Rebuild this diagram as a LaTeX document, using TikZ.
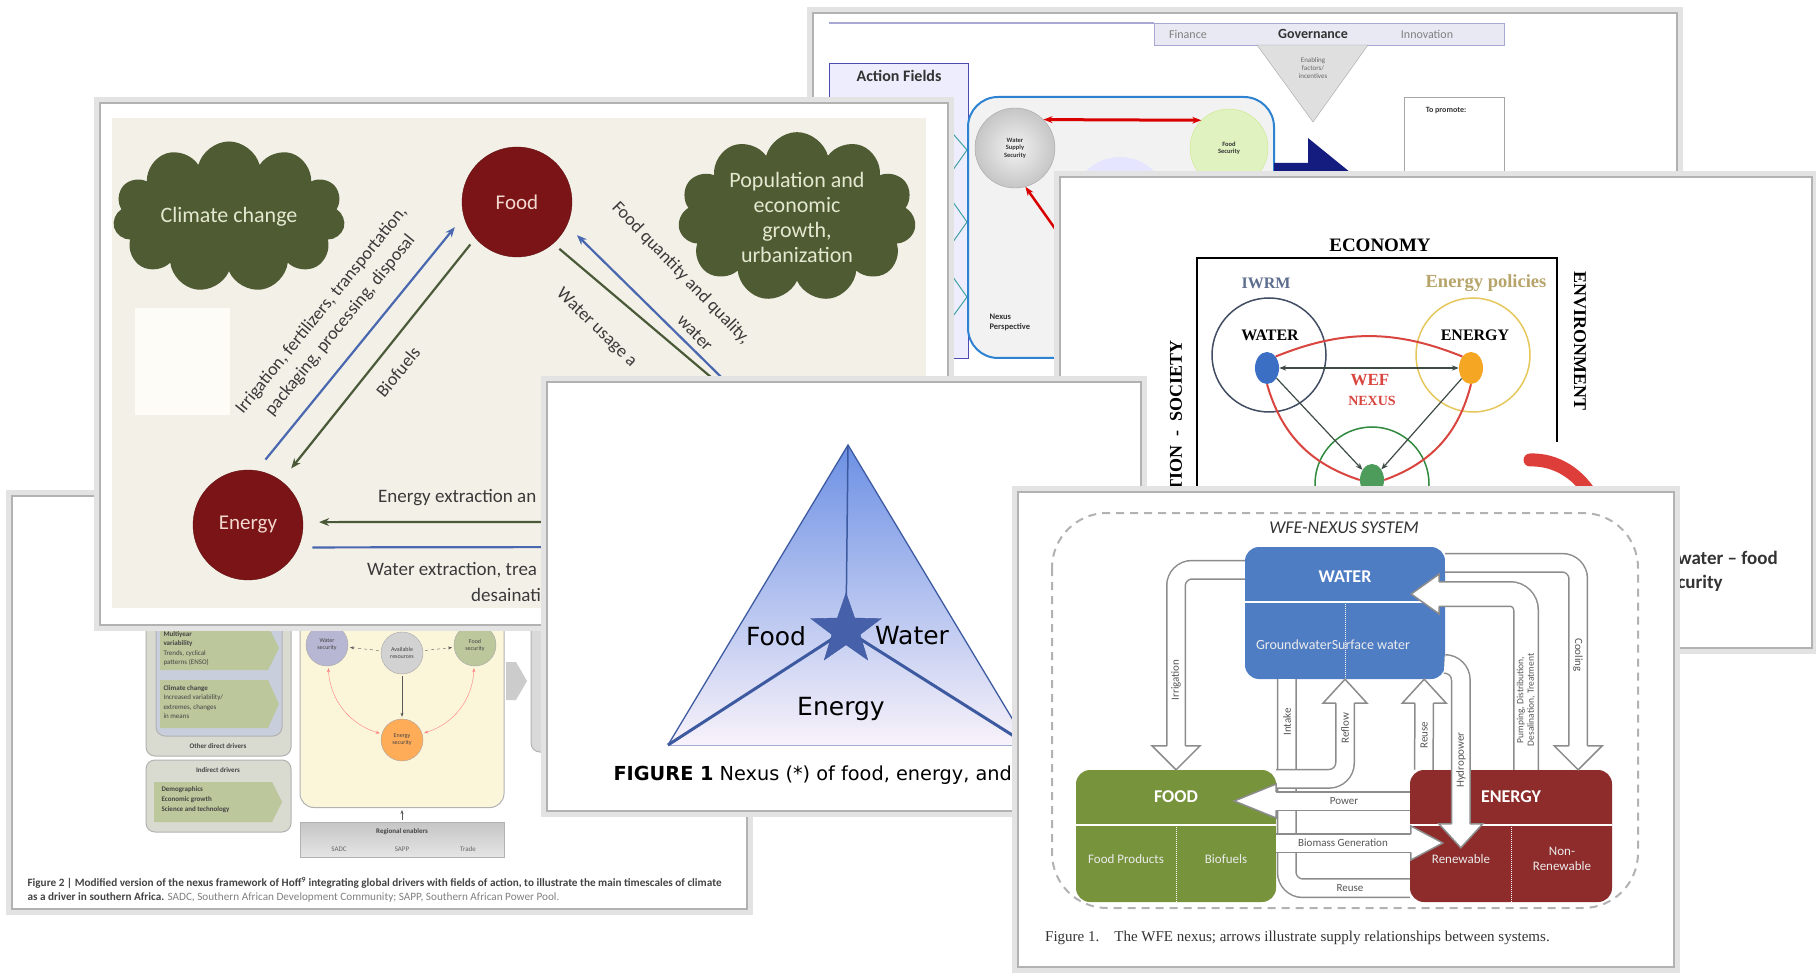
\documentclass[tikz,border=0pt]{standalone}
\usepackage{fontspec}
\setmainfont{Carlito}
\newfontfamily\dejavu{DejaVu Sans}
\newfontfamily\tnr{Liberation Serif}
\usetikzlibrary{arrows.meta,positioning,calc,shapes.geometric,shapes.symbols}

\definecolor{cloudolive}{HTML}{4F5B32}
\definecolor{cloudtxt}{HTML}{E4E8D0}
\definecolor{maroonF}{HTML}{7B1416}
\definecolor{foodtxt}{HTML}{F2D8CF}
\definecolor{fbeige}{HTML}{F3F0E8}
\definecolor{foffwhite}{HTML}{FDFCF7}
\definecolor{arrblue}{HTML}{4A68B0}
\definecolor{arrgreen}{HTML}{4A5A38}
\definecolor{ftxt}{HTML}{3A3A3A}
\definecolor{triblue}{HTML}{6C90E4}
\definecolor{tripink}{HTML}{F8F2FA}
\definecolor{tridark}{HTML}{3D5AA0}
\definecolor{starblue}{HTML}{4661AA}
\definecolor{hwater}{HTML}{4F7DC4}
\definecolor{hfoodc}{HTML}{77933C}
\definecolor{henerc}{HTML}{8E2B2B}
\definecolor{pipegray}{HTML}{8C8C8C}
\definecolor{hcap}{HTML}{333333}
\definecolor{hlab}{HTML}{555555}
\definecolor{ered}{HTML}{D9453F}
\definecolor{egold}{HTML}{E5C75C}
\definecolor{egreen}{HTML}{2F8A3F}
\definecolor{eblue}{HTML}{3A6FC4}
\definecolor{eorange}{HTML}{F5A623}
\definecolor{eslate}{HTML}{5E6E8E}
\definecolor{epol}{HTML}{B7A46A}
\definecolor{edark}{HTML}{3E4B45}
\definecolor{gtext}{HTML}{444444}
\definecolor{ggray}{HTML}{D9DAD0}
\definecolor{gblue}{HTML}{C8CEDC}
\definecolor{gchev}{HTML}{BCC79C}
\definecolor{gyellow}{HTML}{FBF5DA}
\definecolor{lav}{HTML}{A8A8D4}
\definecolor{nexblue}{HTML}{2D82D2}
\definecolor{navy}{HTML}{141C80}
\definecolor{teal}{HTML}{3FA3A0}

\newcommand\fs[2]{\fontsize{#1}{#2}\selectfont}
\newcommand\pipehead[5]{%
  \filldraw[headline, shift={(#1)}, rotate=#2]
    (-#3,-#5) -- (-#3,-#4) -- (0,0) -- (-#3,#4) -- (-#3,#5);}

\begin{document}
\begin{tikzpicture}[x=1pt, y=-1pt,
    cardface/.style={fill=white, draw=gray!60, line width=1.5pt,
      preaction={draw=gray!22, line width=12pt}},
    cloudnode/.style={cloud, cloud puffs=11, aspect=1.7, fill=cloudolive,
      text=cloudtxt, align=center, inner sep=0pt, font=\fs{22}{25}},
    bignode/.style={circle, fill=maroonF, draw=maroonF!80!black, minimum size=110pt,
      text=foodtxt, font=\fs{21}{24}},
    bluearr/.style={draw=arrblue, line width=2.2pt, -{Stealth[length=10pt,width=8pt]},
      shorten <=14pt, shorten >=14pt},
    greenarr/.style={draw=arrgreen, line width=2.2pt, -{Stealth[length=10pt,width=8pt]},
      shorten <=8pt, shorten >=16pt},
    trilabel/.style={font=\dejavu\fs{25}{28}, text=black},
    hbox/.style={rectangle, rounded corners=14pt, minimum width=200pt, minimum height=132pt},
    boxtitle/.style={text=white, font=\bfseries\fs{18}{20}},
    boxtext/.style={text=white!92!black, font=\fs{13}{15}, align=center},
    pipe/.style={draw=white, line width=17pt, rounded corners=16pt,
      preaction={draw=pipegray, line width=20pt}},
    widepipe/.style={draw=white, line width=23pt, rounded corners=16pt,
      preaction={draw=pipegray, line width=26pt}},
    headline/.style={fill=white, draw=pipegray, line width=1.5pt, line join=miter},
    plab/.style={text=hlab, font=\fs{11}{12}, inner sep=1pt},
    ring/.style={circle, minimum size=114pt, line width=1.5pt},
    edotn/.style={ellipse, minimum width=24pt, minimum height=32pt, inner sep=0pt},
    eserif/.style={font=\tnr\bfseries\fs{17}{18}, text=black, inner sep=1pt},
    gcirc/.style={circle, draw=gray!70, minimum size=42pt, inner sep=0pt,
      align=center, font=\fs{6}{7}},
    garr/.style={draw=gray!70!black, -{Stealth[length=4pt]}, shorten <=2pt, shorten >=2pt},
    gbox/.style={draw=gray!60, rounded corners=9pt, line width=1pt}]

\fill[white] (0,0) rectangle (1816,973);
\useasboundingbox (0,0) rectangle (1816,973);

% Hoff nexus (back)
\begin{scope}[every node/.style={text=hcap}]
  \draw[cardface] (813,13) rectangle (1677,395);
  \draw[lav, line width=1.5pt] (829,23) -- (1154,23);
  \draw[draw=lav, fill=lav!25] (1154,23) rectangle (1504,45);
  \node[font=\fs{12}{13}, text=gray] at (1188,34) {Finance};
  \node[font=\bfseries\fs{14}{15}] at (1313,34) {Governance};
  \node[font=\fs{12}{13}, text=gray] at (1427,34) {Innovation};
  \draw[draw=gray!70, fill=gray!25] (1257,45) -- (1368,45) -- (1313,122) -- cycle;
  \node[align=center, font=\fs{7}{8}, text=gray!80!black] at (1313,68) {Enabling\\factors/\\incentives};
  \draw[gray!70] (1404,97) rectangle (1504,200);
  \node[font=\bfseries\fs{8}{9}] at (1446,111) {To promote:};
  \draw[draw=gray!60!blue, fill=gray!20!blue!8] (829,63) rectangle (968,358);
  \node[font=\bfseries\fs{16}{17}] at (899,76) {Action Fields};
  \draw[teal, line width=1pt] (948,128) -- (967,150) -- (948,177);
  \draw[teal, line width=1pt] (948,195) -- (967,222) -- (948,249);
  \draw[teal, line width=1pt] (948,270) -- (967,297) -- (948,323);
  \draw[draw=nexblue, fill=gray!10, line width=2pt, rounded corners=30pt] (968,97) rectangle (1274,358);
  \fill[blue!10] (1120,205) circle (48);
  \node[circle, draw=gray!70, inner color=gray!10, outer color=gray!45, minimum size=80pt,
    align=center, font=\bfseries\fs{6.5}{7.5}] (wss) at (1015,148) {Water\\Supply\\Security};
  \node[circle, draw=yellow!60!green!50, fill=yellow!50!green!25, minimum size=78pt,
    align=center, font=\bfseries\fs{6.5}{7.5}] (fsec) at (1229,148) {Food\\Security};
  \draw[red!85!black, line width=3pt, {Stealth[length=9pt]}-{Stealth[length=9pt]}] (wss.45) -- (fsec.135);
  \coordinate (redend) at (1095,285);
  \draw[red!85!black, line width=2.5pt, {Stealth[length=9pt]}-] (wss.-75) -- (redend);
  \node[anchor=west, align=left, font=\bfseries\fs{8.5}{10}] at (986,322) {Nexus\\Perspective};
  \fill[navy] (1274,163) -- (1308,163) -- (1308,138) -- (1356,177) -- (1274,177) -- cycle;
\end{scope}

% WEF nexus with economy frame
\begin{scope}
  \draw[cardface] (1060,177) rectangle (1812,648);
  \node[eserif, font=\tnr\bfseries\fs{19}{20}] (econ) at (1380,245) {ECONOMY};
  \draw[line width=2pt] (1197,505) -- (1197,258) -- (1557,258) -- (1557,442);
  \node[font=\tnr\bfseries\fs{16}{18}, text=eslate] (iwrm) at (1266,283) {IWRM};
  \node[font=\tnr\bfseries\fs{18.5}{19}, text=epol] (epolicy) at (1486,283) {Energy policies};
  \node[ring, draw=eslate!70!black] (wring) at (1269,355) {};
  \node[ring, draw=egold] (ering) at (1473,355) {};
  \node[ring, draw=egreen] (fring) at (1372,484) {};
  \node[eserif, font=\tnr\bfseries\fs{16}{18}] at (1270,335) {WATER};
  \node[eserif, font=\tnr\bfseries\fs{16}{18}] at (1475,335) {ENERGY};
  \node[edotn, fill=eblue] (wdot) at (1267,368) {};
  \node[edotn, fill=eorange] (edot) at (1471,368) {};
  \node[edotn, fill=egreen!85] (fdot) at (1372,480) {};
  \draw[ered, line width=2pt] (wdot.north east) to[bend left=22] (edot.north west);
  \draw[ered, line width=2pt] (wdot.south) to[bend right=28] (fdot.west);
  \draw[ered, line width=2pt] (edot.south) to[bend left=28] (fdot.east);
  \draw[edark, line width=1.2pt, {Stealth[length=7pt]}-{Stealth[length=7pt]}] (wdot) -- (edot);
  \draw[edark, line width=1.2pt, -{Stealth[length=7pt]}] (wdot) -- (fdot);
  \draw[edark, line width=1.2pt, -{Stealth[length=7pt]}] (edot) -- (fdot);
  \node[font=\tnr\bfseries\fs{17}{18}, text=ered, inner sep=1pt] at (1370,380) {WEF};
  \node[font=\tnr\bfseries\fs{14}{15}, text=ered, inner sep=1pt] at (1372,401) {NEXUS};
  \node[rotate=-90, eserif, font=\tnr\bfseries\fs{18}{19}] at (1580,341) {ENVIRONMENT};
  \node[rotate=90, eserif, font=\tnr\bfseries\fs{18}{19}] at (1176,416) {TION\ \ -\ \ SOCIETY};
  \draw[ered!90!red, line width=13pt, line cap=round] (1530,460) .. controls (1556,459) and (1580,474) .. (1594,500);
  \node[anchor=west, font=\bfseries\fs{19}{21}, text=hcap] at (1674,558) {water -- food};
  \node[anchor=west, font=\bfseries\fs{19}{21}, text=hcap] at (1674,583) {curity};
\end{scope}

% southern Africa framework
\begin{scope}[every node/.style={text=gtext}]
  \draw[cardface] (12,496) rectangle (747,909);
  \draw[gbox, fill=ggray] (146,560) rectangle (291,756);
  \draw[gbox, fill=gblue] (156,560) rectangle (282,736);
  \fill[gchev] (160,626) -- (268,626) -- (279,648) -- (268,670) -- (160,670) -- cycle;
  \fill[gchev] (160,680) -- (268,680) -- (279,704) -- (268,728) -- (160,728) -- cycle;
  \node[anchor=north west, align=left, font=\fs{7}{9.5}] at (160,628)
    {\textbf{Multiyear}\\\textbf{variability}\\Trends, cyclical\\patterns (ENSO)};
  \node[anchor=north west, align=left, font=\fs{7}{9.5}] at (160,682)
    {\textbf{Climate change}\\Increased variability/\\extremes, changes\\in means};
  \node[font=\bfseries\fs{7}{8}] at (218,746) {Other direct drivers};
  \draw[gbox, fill=ggray] (146,760) rectangle (291,832);
  \node[font=\bfseries\fs{7}{8}] at (218,770) {Indirect drivers};
  \fill[gchev] (154,782) -- (272,782) -- (282,802) -- (272,822) -- (154,822) -- cycle;
  \node[anchor=north west, align=left, font=\bfseries\fs{7}{10}] at (158,783)
    {Demographics\\Economic growth\\Science and technology};
  \node[gbox, fill=gyellow, rounded corners=14pt, minimum width=204pt, minimum height=247pt] (gmid) at (402,684) {};
  \node[gcirc, fill=blue!25!gray!45] (gwat) at (327,645) {Water\\security};
  \node[gcirc, fill=gray!35] (gavail) at (402,653) {Available\\resources};
  \node[gcirc, fill=gchev] (gfood) at (475,645) {Food\\security};
  \node[gcirc, fill=orange!65] (gener) at (402,740) {Energy\\security};
  \draw[garr, dashed] (gavail) -- (gwat);
  \draw[garr, dashed] (gavail) -- (gfood);
  \draw[garr] (gavail) -- (gener);
  \draw[garr, draw=red!50, {Stealth[length=4pt]}-{Stealth[length=4pt]}] (gwat) to[bend right=35] (gener);
  \draw[garr, draw=red!50, {Stealth[length=4pt]}-{Stealth[length=4pt]}] (gener) to[bend right=35] (gfood);
  \node[draw=gray!60, top color=gray!45, bottom color=gray!20, minimum width=204pt, minimum height=35pt] (genab) at (402,840) {};
  \node[font=\bfseries\fs{7}{8}] at (402,832) {Regional enablers};
  \node[font=\fs{7}{8}, text=gray!80!black] at (339,849) {SADC};
  \node[font=\fs{7}{8}, text=gray!80!black] at (402,849) {SAPP};
  \node[font=\fs{7}{8}, text=gray!80!black] at (468,849) {Trade};
  \draw[garr] (genab) -- (gmid);
  \fill[gray!40] (506,662) -- (516,662) -- (527,681) -- (516,700) -- (506,700) -- cycle;
  \draw[gbox, fill=gray!30] (531,617) rectangle (570,752);
  \node[anchor=north west, align=left, font=\fs{11.2}{14}] (gcap) at (24,874)
    {\textbf{Figure 2 | Modified version of the nexus framework of Hoff\textsuperscript{9} integrating global drivers with fields of action, to illustrate the main timescales of climate}\\
     \textbf{as a driver in southern Africa.} \textcolor{gray}{SADC, Southern African Development Community; SAPP, Southern African Power Pool.}};
\end{scope}

% food energy water drivers
\begin{scope}[every node/.style={text=ftxt, inner sep=1pt}]
  \draw[cardface] (100,103) rectangle (948,625);
  \fill[fbeige] (112,118) rectangle (926,608);
  \fill[foffwhite] (135,308) rectangle (230,415);
  \node[cloudnode, minimum width=232pt, minimum height=136pt] (climate) at (229,217) {Climate change};
  \node[cloudnode, minimum width=238pt, minimum height=136pt] (popgrowth) at (797,217)
    {Population and\\economic\\growth,\\urbanization};
  \node[bignode] (foodF) at (517,202) {Food};
  \node[bignode] (energyF) at (248,525) {Energy};
  \coordinate (wuse) at (790,444);
  \coordinate (fqual) at (780,435);
  \coordinate (enext) at (620,522);
  \coordinate (waext) at (620,547);
  \draw[bluearr] (energyF.81) -- (foodF.195);
  \draw[greenarr] (foodF.221) -- (energyF.53);
  \draw[greenarr, -] (foodF.-49) -- (wuse);
  \draw[bluearr, shorten <=0pt] (fqual) -- (foodF.-25);
  \draw[greenarr, shorten <=0pt] (enext) -- (energyF.3);
  \draw[bluearr, shorten >=0pt] (energyF.-24) -- (waext);
  \node[rotate=51, align=center, font=\fs{18}{24}] at (331,318)
    {Irrigation, fertilizers, transportation,\\packaging, processing, disposal};
  \node[rotate=51, font=\fs{18}{20}] at (398,372) {Biofuels};
  \node[rotate=-44, anchor=west, font=\fs{18}{20}] at (558,291) {Water usage a};
  \node[rotate=-46, anchor=west, font=\fs{18}{20}] at (614,204) {Food quantity and quality,};
  \node[rotate=-46, font=\fs{18}{20}] at (695,333) {water};
  \node[anchor=west, font=\fs{19}{22}] at (377,498) {Energy extraction an};
  \node[anchor=west, font=\fs{19}{22}] at (366,570) {Water extraction, trea};
  \node[anchor=west, font=\fs{19}{22}] at (470,595) {desainati};
\end{scope}

% nexus triangle
\begin{scope}
  \draw[cardface] (547,382) rectangle (1141,811);
  \coordinate (apex) at (848,445);
  \coordinate (triL) at (668,745);
  \coordinate (triR) at (1028,745);
  \coordinate (starc) at (846,630);
  \shade[top color=triblue, bottom color=tripink] (apex) -- (triL) -- (triR) -- cycle;
  \draw[tridark!50, line width=1pt] (triL) -- (triR);
  \draw[tridark, line width=1.3pt] (triL) -- (apex) -- (triR);
  \draw[tridark, line width=1.5pt] (apex) -- (starc);
  \draw[tridark, line width=3pt] (starc) -- (triL);
  \draw[tridark, line width=3pt] (starc) -- (triR);
  \node[star, star points=5, star point ratio=2.5, fill=starblue, draw=tridark,
    minimum size=74pt, inner sep=0pt] (nexstar) at (starc) {};
  \node[trilabel] (tfood) at (776,636) {Food};
  \node[trilabel] (twater) at (912,636) {Water};
  \node[trilabel] (tenergy) at (841,709) {Energy};
  \node[anchor=west, font=\dejavu\fs{19.3}{21}, text=black] (tcap) at (610,775)
    {\textbf{FIGURE 1} Nexus (*) of food, energy, and};
\end{scope}

% WFE nexus system (front)
\begin{scope}[every node/.style={plab}]
  \draw[cardface] (1018,492) rectangle (1674,967);
  \draw[gray!60, line width=2pt, dash pattern=on 8pt off 6pt, rounded corners=55pt] (1052,513) rectangle (1638,908);
  \node[font=\itshape\fs{18}{19}, text=hcap] at (1344,528) {WFE-NEXUS SYSTEM};
  \node[hbox, fill=hwater] (hwat) at (1345,613) {};
  \node[hbox, fill=hfoodc] (hfood) at (1176,836) {};
  \node[hbox, fill=henerc, minimum width=202pt] (hene) at (1511,836) {};
  \foreach \b in {hwat,hfood,hene} {
    \draw[white, line width=1.5pt] ($(\b.north west)+(0,55)$) -- ($(\b.north east)+(0,55)$);
    \draw[white, line width=1pt, densely dotted] ($(\b.north)+(0,55)$) -- (\b.south);
  }
  \node[boxtitle] at ($(hwat.north)+(0,30)$) {WATER};
  \node[boxtext, font=\fs{14}{16}] at ($(hwat.south)+(-12,-35)$) {GroundwaterSurface water};
  \node[boxtitle] at ($(hfood.north)+(0,27)$) {FOOD};
  \node[boxtext] at ($(hfood.south)+(-50,-43)$) {Food Products};
  \node[boxtext] at ($(hfood.south)+(50,-43)$) {Biofuels};
  \node[boxtitle] at ($(hene.north)+(0,27)$) {ENERGY};
  \node[boxtext] at ($(hene.south)+(-50,-43)$) {Renewable};
  \node[boxtext, font=\fs{13}{15}] at ($(hene.south)+(51,-43)$) {Non-\\Renewable};

  \draw[pipe] ($(hwat.south west)+(42,0)$) |- ($(hene.south west)+(0,-14)$);
  \coordinate (irrT) at (hfood.north);
  \draw[pipe] ($(hwat.north west)+(0,23)$) -| ($(irrT)+(0,-23)$);
  \pipehead{irrT}{-90}{24}{24}{9.25}
  \coordinate (refT) at (hwat.south);
  \draw[pipe] ($(hfood.north east)+(0,9)$) -| ($(refT)+(0,23)$);
  \pipehead{refT}{90}{24}{22}{9.25}
  \coordinate (reuT) at ($(hwat.south east)+(-21,0)$);
  \draw[pipe] ($(hene.north west)+(14,0)$) -- ($(reuT)+(0,23)$);
  \pipehead{reuT}{90}{24}{22}{9.25}
  \coordinate (hydT) at ($(hene.north west)+(51,78)$);
  \draw[pipe] ($(hwat.east)+(0,51)$) -| ($(hydT)+(0,-23)$);
  \pipehead{hydT}{-90}{24}{22}{9.25}
  \coordinate (coolT) at ($(hene.north east)+(-34,0)$);
  \draw[pipe] ($(hwat.north east)+(0,16)$) -| ($(coolT)+(0,-23)$);
  \pipehead{coolT}{-90}{24}{24}{9.25}
  \coordinate (pumpT) at ($(hwat.east)+(-34,-19)$);
  \draw[widepipe] ($(hene.north)+(15,0)$) |- ($(pumpT)+(27,0)$);
  \pipehead{pumpT}{180}{28}{20}{12.25}
  \coordinate (powT) at ($(hfood.east)+(-42,-35)$);
  \draw[pipe] ($(hene.west)+(0,-35)$) -- ($(powT)+(41,0)$);
  \pipehead{powT}{180}{42}{17}{9.25}
  \coordinate (bioT) at ($(hene.west)+(33,7)$);
  \draw[pipe] ($(hfood.east)+(0,7)$) -- ($(bioT)+(-31,0)$);
  \pipehead{bioT}{0}{32}{17}{9.25}

  \node[rotate=90] at (1176,680) {Irrigation};
  \node[rotate=90] at (1287,722) {Intake};
  \node[rotate=90] at (1345,728) {Reflow};
  \node[rotate=90] at (1424,735) {Reuse};
  \node[rotate=90] at (1461,760) {Hydropower};
  \node[rotate=90, align=center, font=\fs{9.5}{10.5}] at (1526,700) {Pumping, Distribution,\\Desalination, Treatment};
  \node[rotate=-90] at (1578,655) {Cooling};
  \node at (1344,801) {Power};
  \node at (1343,843) {Biomass Generation};
  \node at (1350,888) {Reuse};
  \node[anchor=west, font=\tnr\fs{15}{17}, text=hcap] at (1044,938)
    {Figure 1.\quad The WFE nexus; arrows illustrate supply relationships between systems.};
\end{scope}
\end{tikzpicture}
\end{document}
